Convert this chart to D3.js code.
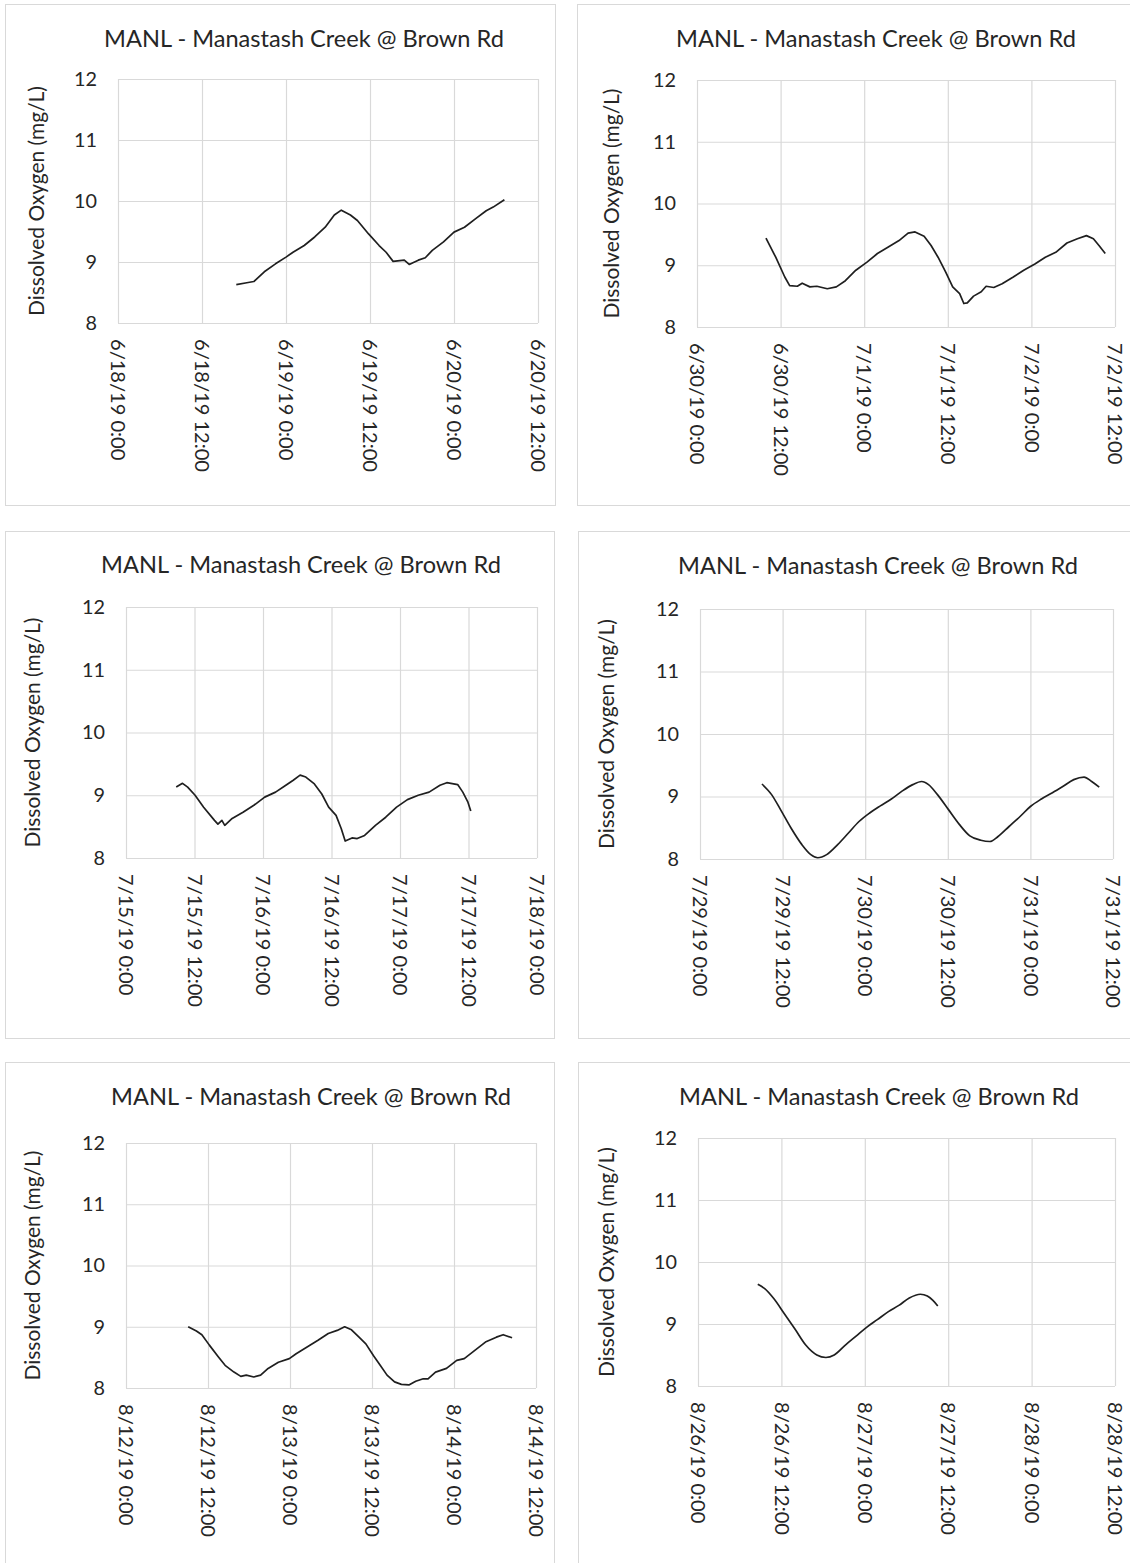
<!DOCTYPE html>
<html>
<head>
<meta charset="utf-8">
<script src="https://cdn.jsdelivr.net/npm/d3@7"></script>
<style>
  html, body { margin: 0; padding: 0; background: #fff; }
  svg { display: block; }
  text { font-family: Lato, "Open Sans", "Noto Sans", sans-serif; }
</style>
</head>
<body>
<svg id="chart" width="1130" height="1563"></svg>
<script>
// ---------------- DATA ----------------
const chartTitle = "MANL - Manastash Creek @ Brown Rd";
const yAxisTitle = "Dissolved Oxygen (mg/L)";
const yTicks = [8, 9, 10, 11, 12];

// window start (UTC) and window length in hours for each panel
const windowStarts = ["2019-06-18T00:00Z", "2019-06-30T00:00Z", "2019-07-15T00:00Z",
                      "2019-07-29T00:00Z", "2019-08-12T00:00Z", "2019-08-26T00:00Z"];
const windowHours = [60, 60, 72, 60, 60, 60];

// hours since window start, and dissolved oxygen (mg/L)
const hours1 = [16.9,18.4,19.4,20.9,22.5,24.0,25.0,26.6,28.1,29.6,30.9,31.9,33.2,34.2,35.8,37.3,38.3,39.3,40.9,41.6,42.9,43.9,44.9,46.5,48.0,49.5,51.1,52.6,53.6,55.2];
const values1 = [8.63,8.66,8.68,8.84,8.97,9.08,9.16,9.27,9.41,9.57,9.77,9.85,9.77,9.68,9.46,9.27,9.16,9.01,9.03,8.96,9.03,9.07,9.19,9.33,9.49,9.57,9.71,9.84,9.90,10.02];

const hours2 = [9.9,11.3,12.6,13.3,14.4,15.1,16.2,17.2,18.7,20.0,21.3,22.8,24.4,25.9,27.4,29.0,30.3,31.3,32.6,33.6,34.6,35.7,36.7,37.7,38.3,38.8,39.7,40.8,41.5,42.6,43.8,45.4,46.9,48.5,50.0,51.5,53.1,54.6,55.9,56.9,57.7,58.6];
const values2 = [9.44,9.13,8.81,8.67,8.66,8.71,8.65,8.66,8.62,8.65,8.75,8.92,9.05,9.19,9.29,9.40,9.52,9.54,9.47,9.32,9.13,8.89,8.65,8.54,8.38,8.39,8.50,8.57,8.66,8.64,8.70,8.81,8.92,9.02,9.13,9.21,9.36,9.43,9.48,9.43,9.32,9.19];

const hours3 = [8.8,9.9,10.8,12.1,13.6,15.5,16.1,16.8,17.3,18.6,20.5,22.4,24.3,26.2,28.0,29.3,30.5,31.5,33.0,34.3,35.5,36.8,37.7,38.4,39.6,40.5,41.8,43.7,45.5,47.4,49.3,51.2,53.1,55.0,56.2,58.1,59.0,59.9,60.4];
const values3 = [9.13,9.19,9.13,9.00,8.81,8.60,8.54,8.60,8.52,8.63,8.73,8.84,8.97,9.05,9.16,9.24,9.32,9.29,9.18,9.02,8.81,8.68,8.47,8.27,8.32,8.31,8.36,8.52,8.65,8.81,8.93,9.00,9.05,9.16,9.20,9.17,9.05,8.89,8.75];

const hours4 = [9.0,10.4,11.7,13.2,14.8,16.1,17.1,18.4,20.0,21.6,23.1,24.7,26.2,27.8,29.4,30.9,32.2,33.2,34.5,36.1,37.7,39.2,40.8,42.1,43.3,44.9,46.5,48.0,49.6,51.2,52.7,54.3,55.8,56.9,58.0];
const values4 = [9.20,9.03,8.79,8.50,8.23,8.07,8.02,8.07,8.23,8.42,8.60,8.74,8.85,8.96,9.09,9.19,9.24,9.19,9.03,8.79,8.55,8.37,8.30,8.28,8.36,8.52,8.68,8.84,8.96,9.06,9.16,9.27,9.31,9.24,9.15];

const hours5 = [9.1,10.3,11.1,12.2,13.5,14.5,15.8,16.8,17.6,18.7,19.7,20.8,22.3,23.9,24.9,26.5,28.1,29.6,30.9,32.0,33.0,34.1,35.1,36.2,37.2,38.2,39.3,40.3,41.4,42.4,43.5,44.2,45.3,46.9,48.4,49.5,51.0,52.6,54.2,55.2,56.5];
const values5 = [9.00,8.93,8.87,8.70,8.51,8.37,8.26,8.19,8.21,8.18,8.21,8.32,8.42,8.48,8.56,8.67,8.78,8.89,8.94,9.00,8.95,8.83,8.72,8.53,8.37,8.21,8.10,8.06,8.05,8.11,8.15,8.15,8.26,8.32,8.45,8.48,8.61,8.75,8.83,8.87,8.82];

const hours6 = [8.6,9.6,10.9,12.4,14.0,15.5,17.1,18.4,19.6,21.2,22.7,24.3,25.8,27.4,28.9,30.4,32.0,33.0,33.8,34.5];
const values6 = [9.64,9.57,9.41,9.17,8.91,8.66,8.50,8.46,8.50,8.66,8.80,8.95,9.07,9.20,9.30,9.42,9.48,9.45,9.38,9.29];

const seriesHours = [hours1, hours2, hours3, hours4, hours5, hours6];
const seriesValues = [values1, values2, values3, values4, values5, values6];

// ---------------- LAYOUT ----------------
const layouts = [
  { box: [5, 4, 555, 505],    plot: [118, 79, 538, 323],   titleX: 304, titleY: 47,   yTitleX: 37 },
  { box: [577, 4, 1140, 505], plot: [697, 80, 1115, 327],  titleX: 876, titleY: 47,   yTitleX: 612 },
  { box: [5, 531, 554, 1038], plot: [126, 607, 537, 858],  titleX: 301, titleY: 573,  yTitleX: 33 },
  { box: [578, 531, 1140, 1038], plot: [700, 609, 1113, 859], titleX: 878, titleY: 574, yTitleX: 607 },
  { box: [5, 1062, 554, 1600], plot: [126, 1143, 536, 1388], titleX: 311, titleY: 1105, yTitleX: 33 },
  { box: [578, 1062, 1140, 1600], plot: [698, 1138, 1115, 1386], titleX: 879, titleY: 1105, yTitleX: 607 }
];

const gridColor = "#d9d9d9";
const textColor = "#262626";
const lineColor = "#1f1f1f";

const svg = d3.select("#chart");
svg.append("rect").attr("width", 1130).attr("height", 1563).attr("fill", "#fff");

// font size fitting to match reference text widths
function fitSize(str, target) {
  const t = svg.append("text").attr("font-size", 100).text(str);
  const w = t.node().getComputedTextLength();
  t.remove();
  return 100 * target / w;
}
const titleSize = fitSize(chartTitle, 400);
const xLabSize = fitSize("6/18/19 12:00", 133);
const yTitleSize = fitSize(yAxisTitle, 230);
const yLabSize = Math.min(xLabSize * 1.05, fitSize("12", 23));

const fmt = d3.utcFormat("%-m/%-d/%y %-H:%M");

layouts.forEach((L, i) => {
  const g = svg.append("g");
  const [bx0, by0, bx1, by1] = L.box;
  g.append("rect")
    .attr("x", bx0 + 0.5).attr("y", by0 + 0.5)
    .attr("width", bx1 - bx0).attr("height", by1 - by0)
    .attr("fill", "#fff").attr("stroke", gridColor).attr("stroke-width", 1);

  const [px0, py0, px1, py1] = L.plot;
  const t0 = new Date(windowStarts[i]);
  const t1 = d3.utcHour.offset(t0, windowHours[i]);
  const x = d3.scaleUtc().domain([t0, t1]).range([px0, px1]);
  const y = d3.scaleLinear().domain([8, 12]).range([py1, py0]);
  const xTicks = d3.utcHour.every(12).range(t0, d3.utcHour.offset(t1, 1));

  // vertical gridlines
  g.append("g").attr("transform", `translate(0,${py1})`)
    .call(d3.axisBottom(x).tickValues(xTicks).tickSize(-(py1 - py0)).tickFormat(""))
    .call(a => a.select(".domain").remove())
    .call(a => a.selectAll("line").attr("stroke", gridColor).attr("stroke-width", 1.2));

  // horizontal gridlines
  g.append("g").attr("transform", `translate(${px0},0)`)
    .call(d3.axisLeft(y).tickValues(yTicks).tickSize(-(px1 - px0)).tickFormat(""))
    .call(a => a.select(".domain").remove())
    .call(a => a.selectAll("line").attr("stroke", gridColor).attr("stroke-width", 1.2));

  // x tick labels (rotated)
  g.append("g").attr("transform", `translate(0,${py1})`)
    .call(d3.axisBottom(x).tickValues(xTicks).tickSize(0).tickFormat(fmt))
    .call(a => a.select(".domain").remove())
    .call(a => a.selectAll("text")
      .attr("transform", "rotate(90)")
      .attr("x", 16).attr("y", 0).attr("dy", "0.36em")
      .attr("text-anchor", "start")
      .attr("fill", textColor)
      .attr("font-size", xLabSize)
      .attr("font-family", "Lato, 'Open Sans', sans-serif"));

  // y tick labels
  g.append("g").attr("transform", `translate(${px0},0)`)
    .call(d3.axisLeft(y).tickValues(yTicks).tickSize(0).tickPadding(21).tickFormat(d3.format("d")))
    .call(a => a.select(".domain").remove())
    .call(a => a.selectAll("text")
      .attr("fill", textColor)
      .attr("font-size", yLabSize)
      .attr("font-family", "Lato, 'Open Sans', sans-serif"));

  // title
  g.append("text")
    .attr("x", L.titleX).attr("y", L.titleY)
    .attr("text-anchor", "middle")
    .attr("font-size", titleSize)
    .attr("fill", textColor)
    .text(chartTitle);

  // y axis title
  g.append("text")
    .attr("transform", `translate(${L.yTitleX},${(py0 + py1) / 2}) rotate(-90)`)
    .attr("text-anchor", "middle")
    .attr("dy", "0.35em")
    .attr("font-size", yTitleSize)
    .attr("fill", textColor)
    .text(yAxisTitle);

  // data line
  const pts = seriesHours[i].map((h, k) => ({ t: new Date(t0.getTime() + h * 3600000), v: seriesValues[i][k] }));
  const line = d3.line().x(d => x(d.t)).y(d => y(d.v))
    .curve(i === 3 || i === 5 ? d3.curveMonotoneX : d3.curveLinear);
  g.append("path").datum(pts)
    .attr("d", line)
    .attr("fill", "none")
    .attr("stroke", lineColor)
    .attr("stroke-width", 1.7)
    .attr("stroke-linejoin", "round");
});
</script>
</body>
</html>
